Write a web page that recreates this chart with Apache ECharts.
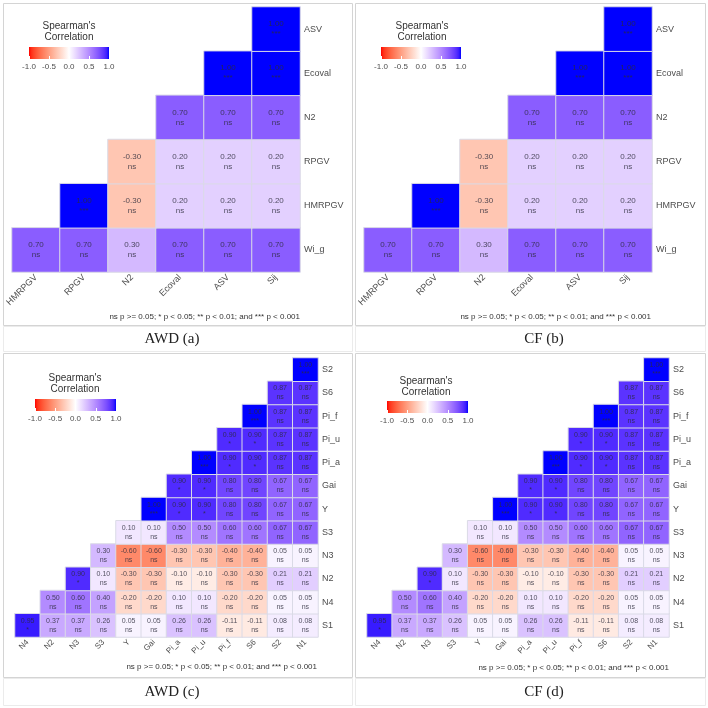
<!DOCTYPE html>
<html>
<head>
<meta charset="utf-8">
<script src="https://cdn.jsdelivr.net/npm/echarts@6/dist/echarts.min.js"></script>
<style>
html, body { margin: 0; padding: 0; background: #fff; }
#main { width: 708px; height: 708px; }
</style>
</head>
<body>
<div id="main"></div>
<script>
// ---- data: top panels (a) and (b) are the same matrix ----
var topX = ['HMRPGV', 'RPGV', 'N2', 'Ecoval', 'ASV', 'Sij'];
var topY = ['Wi_g', 'HMRPGV', 'RPGV', 'N2', 'Ecoval', 'ASV'];
var topVals = [
    [0.70, 0.70, 0.30, 0.70, 0.70, 0.70],
    [null, 1.00, -0.30, 0.20, 0.20, 0.20],
    [null, null, -0.30, 0.20, 0.20, 0.20],
    [null, null, null, 0.70, 0.70, 0.70],
    [null, null, null, null, 1.00, 1.00],
    [null, null, null, null, null, 1.00]
];
var topSig = [
    ['ns', 'ns', 'ns', 'ns', 'ns', 'ns'],
    ['', '***', 'ns', 'ns', 'ns', 'ns'],
    ['', '', 'ns', 'ns', 'ns', 'ns'],
    ['', '', '', 'ns', 'ns', 'ns'],
    ['', '', '', '', '***', '***'],
    ['', '', '', '', '', '***']
];

// ---- data: bottom panels (c) and (d) ----
var botX = ['N4', 'N2', 'N3', 'S3', 'Y', 'Gai', 'Pi_a', 'Pi_u', 'Pi_f', 'S6', 'S2', 'N1'];
var botY = ['S1', 'N4', 'N2', 'N3', 'S3', 'Y', 'Gai', 'Pi_a', 'Pi_u', 'Pi_f', 'S6', 'S2'];
var botVals = [
    [0.95, 0.37, 0.37, 0.26, 0.05, 0.05, 0.26, 0.26, -0.11, -0.11, 0.08, 0.08],
    [null, 0.50, 0.60, 0.40, -0.20, -0.20, 0.10, 0.10, -0.20, -0.20, 0.05, 0.05],
    [null, null, 0.90, 0.10, -0.30, -0.30, -0.10, -0.10, -0.30, -0.30, 0.21, 0.21],
    [null, null, null, 0.30, -0.60, -0.60, -0.30, -0.30, -0.40, -0.40, 0.05, 0.05],
    [null, null, null, null, 0.10, 0.10, 0.50, 0.50, 0.60, 0.60, 0.67, 0.67],
    [null, null, null, null, null, 1.00, 0.90, 0.90, 0.80, 0.80, 0.67, 0.67],
    [null, null, null, null, null, null, 0.90, 0.90, 0.80, 0.80, 0.67, 0.67],
    [null, null, null, null, null, null, null, 1.00, 0.90, 0.90, 0.87, 0.87],
    [null, null, null, null, null, null, null, null, 0.90, 0.90, 0.87, 0.87],
    [null, null, null, null, null, null, null, null, null, 1.00, 0.87, 0.87],
    [null, null, null, null, null, null, null, null, null, null, 0.87, 0.87],
    [null, null, null, null, null, null, null, null, null, null, null, 1.00]
];
var botSig = [
    ['*', 'ns', 'ns', 'ns', 'ns', 'ns', 'ns', 'ns', 'ns', 'ns', 'ns', 'ns'],
    ['', 'ns', 'ns', 'ns', 'ns', 'ns', 'ns', 'ns', 'ns', 'ns', 'ns', 'ns'],
    ['', '', '*', 'ns', 'ns', 'ns', 'ns', 'ns', 'ns', 'ns', 'ns', 'ns'],
    ['', '', '', 'ns', 'ns', 'ns', 'ns', 'ns', 'ns', 'ns', 'ns', 'ns'],
    ['', '', '', '', 'ns', 'ns', 'ns', 'ns', 'ns', 'ns', 'ns', 'ns'],
    ['', '', '', '', '', '***', '*', '*', 'ns', 'ns', 'ns', 'ns'],
    ['', '', '', '', '', '', '*', '*', 'ns', 'ns', 'ns', 'ns'],
    ['', '', '', '', '', '', '', '***', '*', '*', 'ns', 'ns'],
    ['', '', '', '', '', '', '', '', '*', '*', 'ns', 'ns'],
    ['', '', '', '', '', '', '', '', '', '***', 'ns', 'ns'],
    ['', '', '', '', '', '', '', '', '', '', 'ns', 'ns'],
    ['', '', '', '', '', '', '', '', '', '', '', '***']
];

var legendTitle = "Spearman's\nCorrelation";
var footnote = 'ns p >= 0.05; * p < 0.05; ** p < 0.01; and *** p < 0.001';
var captions = ['AWD (a)', 'CF (b)', 'AWD (c)', 'CF (d)'];

var SANS = 'Liberation Sans, Arial, sans-serif';
var SERIF = 'Liberation Serif, Times New Roman, serif';
var TEXT_DARK = '#2b2b3a';

// red - white - blue gradient interpolated in Lab space (like ggplot's gradient2)
function labToRgb(L, a, b) {
    var fy = (L + 16) / 116, fx = fy + a / 500, fz = fy - b / 200;
    function finv(t) { return t > 6 / 29 ? t * t * t : 3 * (6 / 29) * (6 / 29) * (t - 4 / 29); }
    var X = 0.95047 * finv(fx), Y = finv(fy), Z = 1.08883 * finv(fz);
    var r = 3.2406 * X - 1.5372 * Y - 0.4986 * Z;
    var g = -0.9689 * X + 1.8758 * Y + 0.0415 * Z;
    var bl = 0.0557 * X - 0.2040 * Y + 1.0570 * Z;
    function gam(v) {
        v = Math.max(0, Math.min(1, v));
        v = v <= 0.0031308 ? 12.92 * v : 1.055 * Math.pow(v, 1 / 2.4) - 0.055;
        return Math.round(Math.max(0, Math.min(1, v)) * 255);
    }
    return 'rgb(' + gam(r) + ',' + gam(g) + ',' + gam(bl) + ')';
}
var LAB_RED = [53.24, 80.09, 67.20];
var LAB_BLUE = [32.30, 79.19, -107.86];
function corrColor(v) {
    var end = v < 0 ? LAB_RED : LAB_BLUE;
    var t = Math.abs(v);
    return labToRgb(100 + (end[0] - 100) * t, end[1] * t, end[2] * t);
}
var colorStops = [];
for (var i = 0; i <= 40; i++) colorStops.push(corrColor(-1 + i / 20));

// layout of the four panels
var panels = [
    { x: topX, y: topY, vals: topVals, sig: topSig,
      grid: { left: 12, top: 7, width: 288, height: 265 },
      leg: { x: 29, y: 47, w: 80, h: 12, tx: 69, ty: 21 },
      foot: { x: 300, y: 317 }, cap: { x: 172, y: 339 },
      box: [3, 3, 349, 322], capBox: [3, 326, 349, 25],
      cell: 8, lab: 9, xlab: 9 },
    { x: topX, y: topY, vals: topVals, sig: topSig,
      grid: { left: 364, top: 7, width: 288, height: 265 },
      leg: { x: 381, y: 47, w: 80, h: 12, tx: 422, ty: 21 },
      foot: { x: 651, y: 317 }, cap: { x: 544, y: 339 },
      box: [355, 3, 350, 322], capBox: [355, 326, 350, 25],
      cell: 8, lab: 9, xlab: 9 },
    { x: botX, y: botY, vals: botVals, sig: botSig,
      grid: { left: 15, top: 358, width: 303, height: 279 },
      leg: { x: 35, y: 399, w: 81, h: 12, tx: 75, ty: 373 },
      foot: { x: 317, y: 667 }, cap: { x: 172, y: 692 },
      box: [3, 353, 349, 324], capBox: [3, 678, 349, 27],
      cell: 7, lab: 9, xlab: 8 },
    { x: botX, y: botY, vals: botVals, sig: botSig,
      grid: { left: 367, top: 358, width: 302, height: 279 },
      leg: { x: 387, y: 401, w: 81, h: 12, tx: 426, ty: 376 },
      foot: { x: 669, y: 668 }, cap: { x: 544, y: 692 },
      box: [355, 353, 350, 324], capBox: [355, 678, 350, 27],
      cell: 7, lab: 9, xlab: 8 }
];

function buildData(p) {
    var out = [];
    p.vals.forEach(function (row, yi) {
        row.forEach(function (v, xi) {
            if (v !== null) out.push([xi, yi, v, p.sig[yi][xi]]);
        });
    });
    return out;
}

var grids = [], xAxes = [], yAxes = [], series = [], graphics = [];

panels.forEach(function (p, i) {
    var data = buildData(p);
    grids.push(p.grid);
    xAxes.push({
        type: 'category', gridIndex: i, data: p.x, position: 'bottom',
        axisLine: { show: false }, axisTick: { show: false }, splitLine: { show: false },
        axisLabel: { rotate: 45, interval: 0, fontSize: p.xlab, color: '#4d4d4d', margin: 4, fontFamily: SANS }
    });
    yAxes.push({
        type: 'category', gridIndex: i, data: p.y, position: 'right',
        axisLine: { show: false }, axisTick: { show: false }, splitLine: { show: false },
        axisLabel: { interval: 0, fontSize: p.lab, color: '#4d4d4d', margin: 4, fontFamily: SANS }
    });
    // coloured cells
    series.push({
        type: 'heatmap', xAxisIndex: i, yAxisIndex: i,
        data: data,
        itemStyle: { borderColor: '#dadae6', borderWidth: 1 },
        label: { show: false },
        emphasis: { disabled: true }
    });
});

// cell texts drawn as labels of an invisible scatter layer on the same axes
panels.forEach(function (p, i) {
    series.push({
        type: 'scatter', xAxisIndex: i, yAxisIndex: i, z: 5, silent: true,
        data: buildData(p),
        symbol: 'rect', symbolSize: 1,
        itemStyle: { color: 'rgba(255,255,255,0)' },
        label: {
            show: true, position: 'inside', color: TEXT_DARK,
            fontSize: p.cell, lineHeight: p.cell + 2, fontFamily: SANS,
            formatter: function (d) { return d.value[2].toFixed(2) + '\n' + d.value[3]; }
        },
        emphasis: { disabled: true }
    });
});

// colour-bar legends: gradient rect + a value axis for the tick labels
panels.forEach(function (p, i) {
    var L = p.leg, gi = panels.length + i;
    grids.push({ left: L.x, top: L.y, width: L.w, height: L.h });
    xAxes.push({
        type: 'value', gridIndex: gi, min: -1, max: 1, interval: 0.5, position: 'bottom', z: 10,
        axisLine: { show: false }, splitLine: { show: false },
        axisTick: { show: true, inside: true, length: 3, lineStyle: { color: '#fff', width: 1 } },
        axisLabel: { fontSize: 8, color: '#4d4d4d', margin: 4, fontFamily: SANS,
            formatter: function (v) { return v.toFixed(1); } }
    });
    yAxes.push({ type: 'value', gridIndex: gi, show: false });

    graphics.push({
        type: 'rect', z: 1,
        shape: { x: L.x, y: L.y, width: L.w, height: L.h },
        style: { fill: new echarts.graphic.LinearGradient(0, 0, 1, 0,
            colorStops.map(function (c, k) { return { offset: k / (colorStops.length - 1), color: c }; })) }
    });
    graphics.push({
        type: 'text', z: 1,
        style: { text: legendTitle, x: L.tx, y: L.ty, align: 'center', verticalAlign: 'top',
            fontSize: 10, lineHeight: 11, fill: '#333', fontFamily: SANS }
    });
    graphics.push({
        type: 'text', z: 1,
        style: { text: footnote, x: p.foot.x, y: p.foot.y, align: 'right', verticalAlign: 'middle',
            fontSize: 8, fill: '#333', fontFamily: SANS }
    });
    graphics.push({
        type: 'text', z: 1,
        style: { text: captions[i], x: p.cap.x, y: p.cap.y, align: 'center', verticalAlign: 'middle',
            fontSize: 15, fill: '#222', fontFamily: SERIF }
    });
    graphics.push({
        type: 'rect', z: 0,
        shape: { x: p.box[0] + 0.5, y: p.box[1] + 0.5, width: p.box[2], height: p.box[3] },
        style: { fill: null, stroke: '#d4d4d4', lineWidth: 1 }
    });
    graphics.push({
        type: 'rect', z: 0,
        shape: { x: p.capBox[0] + 0.5, y: p.capBox[1] + 0.5, width: p.capBox[2], height: p.capBox[3] },
        style: { fill: null, stroke: '#ebebeb', lineWidth: 1 }
    });
});

var myChart = echarts.init(document.getElementById('main'));
var option = {
    backgroundColor: '#fff',
    animation: false,
    grid: grids,
    xAxis: xAxes,
    yAxis: yAxes,
    visualMap: {
        type: 'continuous', show: false, min: -1, max: 1, dimension: 2,
        seriesIndex: [0, 1, 2, 3],
        inRange: { color: colorStops }
    },
    graphic: graphics,
    series: series
};
myChart.setOption(option);
</script>
</body>
</html>
